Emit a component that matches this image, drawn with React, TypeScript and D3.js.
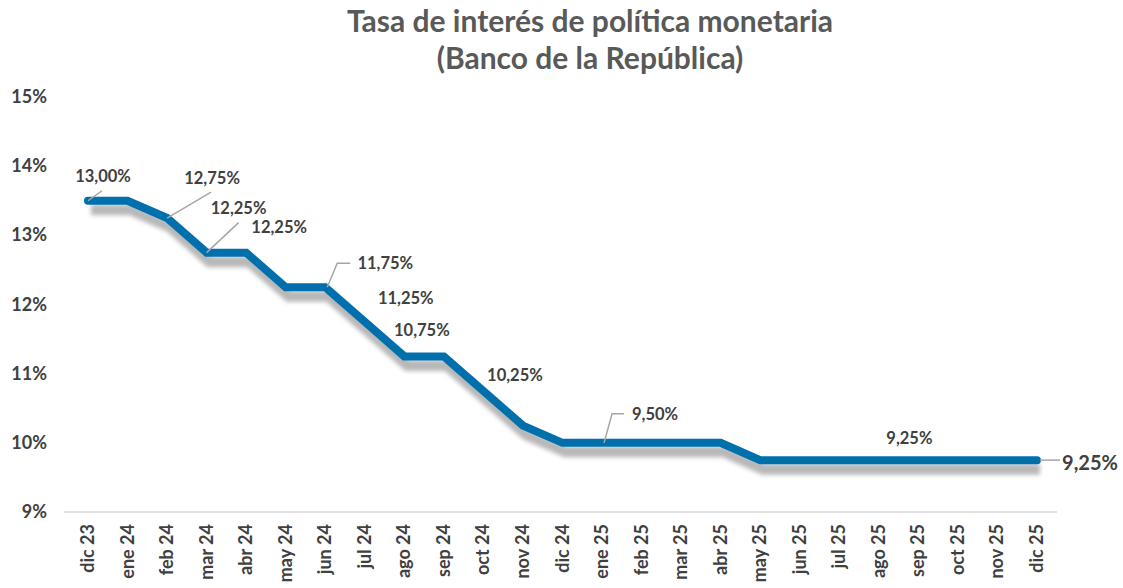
import React from "react";
import * as d3 from "d3";

const categories = ["dic 23","ene 24","feb 24","mar 24","abr 24","may 24","jun 24","jul 24","ago 24","sep 24","oct 24","nov 24","dic 24","ene 25","feb 25","mar 25","abr 25","may 25","jun 25","jul 25","ago 25","sep 25","oct 25","nov 25","dic 25"];
const rateValues = [13.5,13.5,13.25,12.75,12.75,12.25,12.25,11.75,11.25,11.25,10.75,10.25,10,10,10,10,10,9.75,9.75,9.75,9.75,9.75,9.75,9.75,9.75];
const yTicks = [9,10,11,12,13,14,15];
const labelIndex = [0,2,3,4,6,7,9,11,13,21,24];
const labelTexts = ["13,00%","12,75%","12,25%","12,25%","11,75%","11,25%","10,75%","10,25%","9,50%","9,25%","9,25%"];

// layout offsets for annotations (dx, dy of text centre from point; leader polyline offsets)
const annot = [
  { dx: 15, dy: -25, leader: [[0,0],[14,-10]] },
  { dx: 45, dy: -40, leader: [[0,0],[44,-26]] },
  { dx: 32, dy: -45, leader: [[0,0],[32,-30]] },
  { dx: 33, dy: -26, leader: null },
  { dx: 60, dy: -24, leader: [[2,0],[12,-24],[25,-24]] },
  { dx: 41, dy: -24, leader: null },
  { dx: -22, dy: -26, leader: null },
  { dx: -8, dy: -51, leader: null },
  { dx: 53, dy: -29, leader: [[2,0],[10,-29],[22,-29]] },
  { dx: -9, dy: -22, leader: null },
  { dx: 53, dy: 3, leader: [[3,0],[23,0]] },
];

const W = 1123, H = 588;
const x = d3.scalePoint<number>().domain(d3.range(categories.length)).range([88, 1037]);
const y = d3.scaleLinear().domain([9, 15]).range([512, 97]);

export default function App() {
  const line = d3.line<number>().x((_, i) => x(i)!).y((d) => y(d)).curve(d3.curveLinear);
  const path = line(rateValues)!;
  const font = "Lato, 'Open Sans', sans-serif";
  return (
    <svg width={W} height={H} style={{ position: "absolute", left: 0, top: 0 }} fontFamily={font}>
      <defs>
        <filter id="blur" x="-10%" y="-20%" width="120%" height="140%">
          <feGaussianBlur stdDeviation="2" />
        </filter>
      </defs>
      <rect width={W} height={H} fill="#fff" />
      <text x={590} y={32} textAnchor="middle" fontSize={30} fontWeight={700} fill="#595959">Tasa de interés de política monetaria</text>
      <text x={590} y={69} textAnchor="middle" fontSize={30} fontWeight={700} fill="#595959">(Banco de la República)</text>
      {yTicks.map((t) => (
        <text key={t} x={47} y={y(t) + 6} textAnchor="end" fontSize={18} fontWeight={700} fill="#404040">{t}%</text>
      ))}
      <line x1={64} x2={1057} y1={y(9)} y2={y(9)} stroke="#d9d9d9" strokeWidth={1.5} />
      {categories.map((c, i) => (
        <text key={c} transform={`translate(${x(i)! + 6},${524}) rotate(-90)`} textAnchor="end" fontSize={18} fontWeight={700} fill="#404040">{c}</text>
      ))}
      <path d={path} transform="translate(3,9)" fill="none" stroke="#b8b8b8" strokeWidth={11} strokeLinejoin="miter" filter="url(#blur)" />
      <path d={path} fill="none" stroke="#0070ad" strokeWidth={8} strokeLinejoin="miter" strokeLinecap="round" />
      {labelIndex.map((idx, k) => {
        const px = x(idx)!, py = y(rateValues[idx]);
        const a = annot[k];
        const last = k === labelIndex.length - 1;
        return (
          <g key={k}>
            {a.leader && (
              <polyline points={a.leader.map(([ax, ay]) => `${px + ax},${py + ay}`).join(" ")} fill="none" stroke="#a6a6a6" strokeWidth={1.5} />
            )}
            <text x={px + a.dx} y={py + a.dy + (last ? 7 : 6)} textAnchor="middle" fontSize={last ? 20 : 16.5} fontWeight={700} fill="#404040">{labelTexts[k]}</text>
          </g>
        );
      })}
    </svg>
  );
}
